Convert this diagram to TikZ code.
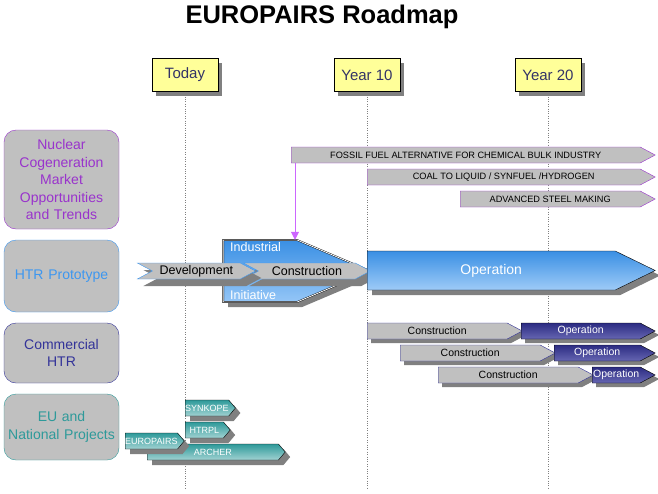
\documentclass[tikz,border=0pt]{standalone}
\usepackage{fontspec}
\setmainfont{Liberation Sans}
\usepackage{xcolor}
\usetikzlibrary{positioning}
\usetikzlibrary{shapes.symbols}
\usetikzlibrary{arrows.meta}
\usetikzlibrary{shadows}
\definecolor{boxgray}{HTML}{C0C0C0}
\definecolor{shade}{HTML}{808080}
\definecolor{note}{HTML}{FFFF99}
\definecolor{notetext}{HTML}{333366}
\definecolor{mktpurple}{HTML}{9933CC}
\definecolor{feedpurple}{HTML}{CC66FF}
\definecolor{htrblue}{HTML}{3D97F0}
\definecolor{comnavy}{HTML}{333399}
\definecolor{euteal}{HTML}{2E9A9A}
\tikzset{
  % A milestone on the time axis
  milestone/.style={
    draw=black, fill=note, text=notetext, font=\fontsize{15}{17}\selectfont,
    minimum width=66pt, minimum height=33pt, inner sep=0pt,
    drop shadow={shadow xshift=4pt, shadow yshift=-4pt, fill=shade, opacity=1}},
  % Dotted line down from a milestone
  timeline/.style={draw=shade, dotted},
  % A row heading on the left
  rowhead/.style={
    draw=#1, fill=boxgray, text=#1, rounded corners=12pt, align=center,
    font=\fontsize{14}{17.5}\selectfont, minimum width=115pt, text width=112pt,
    inner sep=0pt},
  % A phase bar with a pointed end
  bar/.style={
    signal, signal to=east, signal pointer angle=56, inner sep=0pt,
    minimum height=16pt, anchor=west, minimum width=#1},
  % A gray bar with a coloured outline
  graybar/.style={bar=#1, fill=boxgray,
    drop shadow={shadow xshift=4pt, shadow yshift=-4pt, fill=shade, opacity=1}},
  mktbar/.style={bar=#1, fill=boxgray, draw=mktpurple, font=\fontsize{9.2}{10}\selectfont},
  devbar/.style={bar=#1, fill=boxgray, draw=htrblue, signal from=west,
    font=\fontsize{12.5}{14}\selectfont,
    drop shadow={shadow xshift=6pt, shadow yshift=-7pt, fill=shade, opacity=1}},
  consbar/.style={graybar=#1, draw=comnavy, font=\fontsize{10.5}{12}\selectfont},
  opbar/.style={bar=#1, draw=black, top color=comnavy!85!black, bottom color=comnavy!75!white,
    text=white, font=\fontsize{10.5}{12}\selectfont,
    drop shadow={shadow xshift=4pt, shadow yshift=-4pt, fill=shade, opacity=1}},
  projbar/.style={bar=#1, draw=black, signal pointer angle=100, top color=euteal,
    bottom color=euteal!45!white, text=white, font=\fontsize{9}{10}\selectfont,
    drop shadow={shadow xshift=5pt, shadow yshift=-5pt, fill=shade, opacity=1}},
  feed/.style={-{Triangle[length=8pt, width=8pt]}, draw=feedpurple},
  lbl/.style={text=white, font=\fontsize{12.5}{14}\selectfont, inner sep=0pt},
}

\begin{document}
\begin{tikzpicture}[x=1pt, y=-1pt]
\useasboundingbox (0,0) rectangle (658,493);

\node[font=\fontsize{25.5}{30}\selectfont\bfseries] (title) at (322,17) {EUROPAIRS Roadmap};

% time axis
\node[milestone] (today) at (185,75) {Today};
\node[milestone] (y10) at (367,75) {Year 10};
\node[milestone] (y20) at (548,75) {Year 20};
\foreach \m in {today, y10, y20}
  \draw[timeline] (\m.south) -- (\m.south |- 0,490);

% row headings
\node[rowhead=mktpurple, minimum height=99pt] (market) at (61.5,179.5)
  {Nuclear\\Cogeneration\\Market\\Opportunities\\and Trends};
\node[rowhead=htrblue, minimum height=72pt] (proto) at (61.5,276) {HTR Prototype};
\node[rowhead=comnavy, minimum height=60pt] (comm) at (61.5,353) {Commercial\\HTR};
\node[rowhead=euteal, minimum height=66pt] (projects) at (61.5,427) {EU and\\National Projects};

% market opportunities
\node[mktbar=364pt] (fossil) at (291,155) {FOSSIL FUEL ALTERNATIVE FOR CHEMICAL BULK INDUSTRY};
\node[mktbar=288pt] (coal) at (367,177) {COAL TO LIQUID / SYNFUEL /HYDROGEN};
\node[mktbar=195pt] (steel) at (460,199) {ADVANCED STEEL MAKING};

% HTR prototype
\node[bar=147pt, minimum height=62pt, signal pointer angle=46, draw=black,
      double=white, double distance=0.8pt, top color=htrblue!95!black,
      bottom color=htrblue!55!white,
      drop shadow={shadow xshift=5pt, shadow yshift=-5pt, fill=shade, opacity=1}]
      (ind) at (223,271) {};
\node[lbl, anchor=north west] (indtop) at (230,242) {Industrial};
\node[lbl, anchor=south west] (indbot) at (230,300) {Initiative};
\node[devbar=127pt] (protocons) at (258,271) {Construction};
\node[devbar=118pt] (dev) at (152,271) {Development};
\node[bar=288pt, minimum height=39pt, signal pointer angle=52, draw=black,
      top color=htrblue!95!black, bottom color=htrblue!50!white, text=white,
      font=\fontsize{14}{16}\selectfont,
      drop shadow={shadow xshift=5pt, shadow yshift=-5pt, fill=shade, opacity=1}]
      (protoop) at (367,270.5) {Operation};
\draw[feed] ([xshift=4pt]fossil.south west) -- ([xshift=4pt]fossil.south west |- ind.north);

% commercial HTR
\node[consbar=155pt] (cons1) at (367,331) {Construction};
\node[opbar=134pt] (op1) at (521,331) {Operation};
\node[consbar=155pt] (cons2) at (400,353) {Construction};
\node[opbar=101pt] (op2) at (554,353) {Operation};
\node[consbar=155pt] (cons3) at (438,375) {Construction};
\node[opbar=63pt] (op3) at (592,375) {Operation};

% EU and national projects
\node[projbar=50pt] (synkope) at (185,408) {SYNKOPE};
\node[projbar=45pt] (htrpl) at (185,430) {HTRPL};
\node[projbar=138pt] (archer) at (147,452) {ARCHER};
\node[projbar=57pt] (europairs) at (125,441) {EUROPAIRS};

\end{tikzpicture}
\end{document}
